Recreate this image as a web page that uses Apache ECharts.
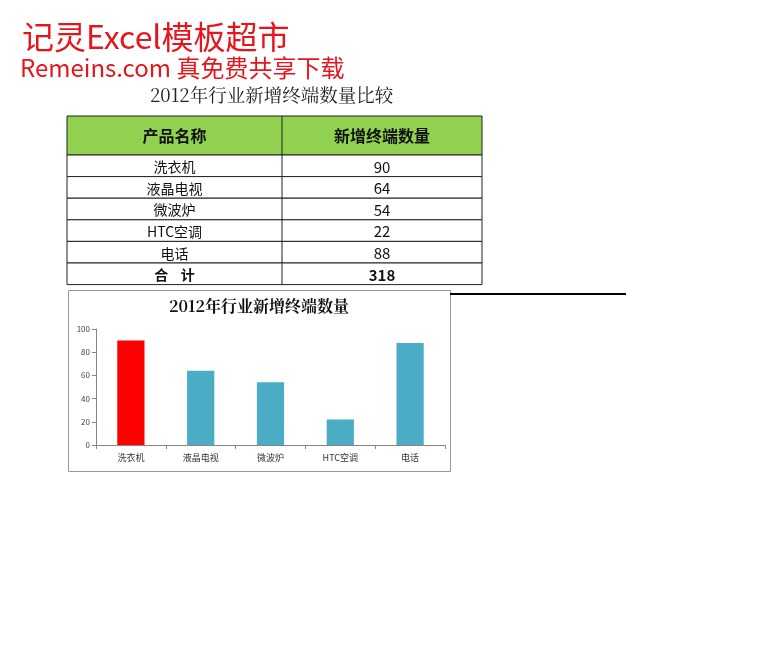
<!DOCTYPE html>
<html><head><meta charset="utf-8">
<script src="https://cdn.jsdelivr.net/npm/echarts@6/dist/echarts.min.js"></script>
<style>html,body{margin:0;padding:0;background:#fff}#c{width:766px;height:650px}</style>
</head><body><div id="c"></div>
<script>
const categories = ['洗衣机','液晶电视','微波炉','HTC空调','电话'];
const values = [90, 64, 54, 22, 88];
const barColors = ['#FF0000','#4BACC6','#4BACC6','#4BACC6','#4BACC6'];
const yTicks = [0, 20, 40, 60, 80, 100];
const headers = ['产品名称','新增终端数量'];
const totalLabel = '合    计';

const total = values.reduce((a,b)=>a+b,0);
const chart = echarts.init(document.getElementById('c'), null, {renderer:'canvas'});
const CJK = '"Noto Sans CJK SC", "Noto Sans", sans-serif';

const g = [];
// watermark text
g.push({type:'text', style:{text:'记灵Excel模板超市', x:22, y:37, verticalAlign:'middle', fill:'#E8141B', font:'32px '+CJK}});
g.push({type:'text', style:{text:'Remeins.com 真免费共享下载', x:20, y:68, verticalAlign:'middle', fill:'#E8141B', font:'24px '+CJK}});
g.push({type:'text', style:{text:'2012年行业新增终端数量比较', x:150, y:95, verticalAlign:'middle', fill:'#222', font:'18.5px "Noto Serif CJK SC", '+CJK}});

// table
const tx0 = 67, tx1 = 282, tx2 = 482, ty0 = 116, hh = 39, rh = 21.6;
g.push({type:'rect', shape:{x:tx0, y:ty0, width:tx2-tx0, height:hh}, style:{fill:'#92D050', stroke:'#222', lineWidth:1}});
g.push({type:'text', style:{text:headers[0], x:(tx0+tx1)/2, y:ty0+hh/2, align:'center', verticalAlign:'middle', fill:'#111', font:'bold 16px '+CJK}});
g.push({type:'text', style:{text:headers[1], x:(tx1+tx2)/2, y:ty0+hh/2, align:'center', verticalAlign:'middle', fill:'#111', font:'bold 16px '+CJK}});
const rows = categories.map((c,i)=>[c, String(values[i]), false]).concat([[totalLabel, String(total), true]]);
rows.forEach((r,i)=>{
  const y = ty0 + hh + i*rh;
  g.push({type:'rect', shape:{x:tx0, y:y, width:tx2-tx0, height:rh}, style:{fill:'#fff', stroke:'#222', lineWidth:1}});
  g.push({type:'text', style:{text:r[0], x:(tx0+tx1)/2, y:y+rh/2+1, align:'center', verticalAlign:'middle', fill:'#111', font:(r[2]?'bold ':'')+'14px '+CJK}});
  g.push({type:'text', style:{text:r[1], x:(tx1+tx2)/2, y:y+rh/2+1, align:'center', verticalAlign:'middle', fill:'#111', font:(r[2]?'bold ':'')+'15px '+CJK}});
});
g.push({type:'line', shape:{x1:tx1, y1:ty0, x2:tx1, y2:ty0+hh+6*rh}, style:{stroke:'#222', lineWidth:1}});

// chart box
g.push({type:'rect', z:-1, shape:{x:68.5, y:290.5, width:382, height:181}, style:{fill:'#fff', stroke:'#999', lineWidth:1}});
g.push({type:'line', shape:{x1:450, y1:294, x2:626, y2:294}, style:{stroke:'#000', lineWidth:2}});
g.push({type:'text', style:{text:'2012年行业新增终端数量', x:259, y:306, align:'center', verticalAlign:'middle', fill:'#111', font:'bold 16px "Noto Serif CJK SC", '+CJK}});

chart.setOption({
  animation:false,
  backgroundColor:'#fff',
  graphic:g,
  grid:{left:96, right:321, top:329, bottom:205},
  xAxis:{type:'category', data:categories,
    axisLine:{lineStyle:{color:'#868686'}},
    axisTick:{show:true, alignWithLabel:false, length:4, lineStyle:{color:'#868686'}},
    axisLabel:{color:'#333', fontSize:9, margin:8, fontFamily:CJK}},
  yAxis:{type:'value', min:yTicks[0], max:yTicks[yTicks.length-1], interval:20,
    axisLine:{show:true, lineStyle:{color:'#868686'}},
    axisTick:{show:true, length:4, lineStyle:{color:'#868686'}},
    splitLine:{show:false},
    axisLabel:{color:'#444', fontSize:8, margin:6, fontFamily:CJK}},
  series:[{type:'bar', data:values.map((v,i)=>({value:v, itemStyle:{color:barColors[i]}})), barWidth:'39%', barGap:0}]
});
</script></body></html>
